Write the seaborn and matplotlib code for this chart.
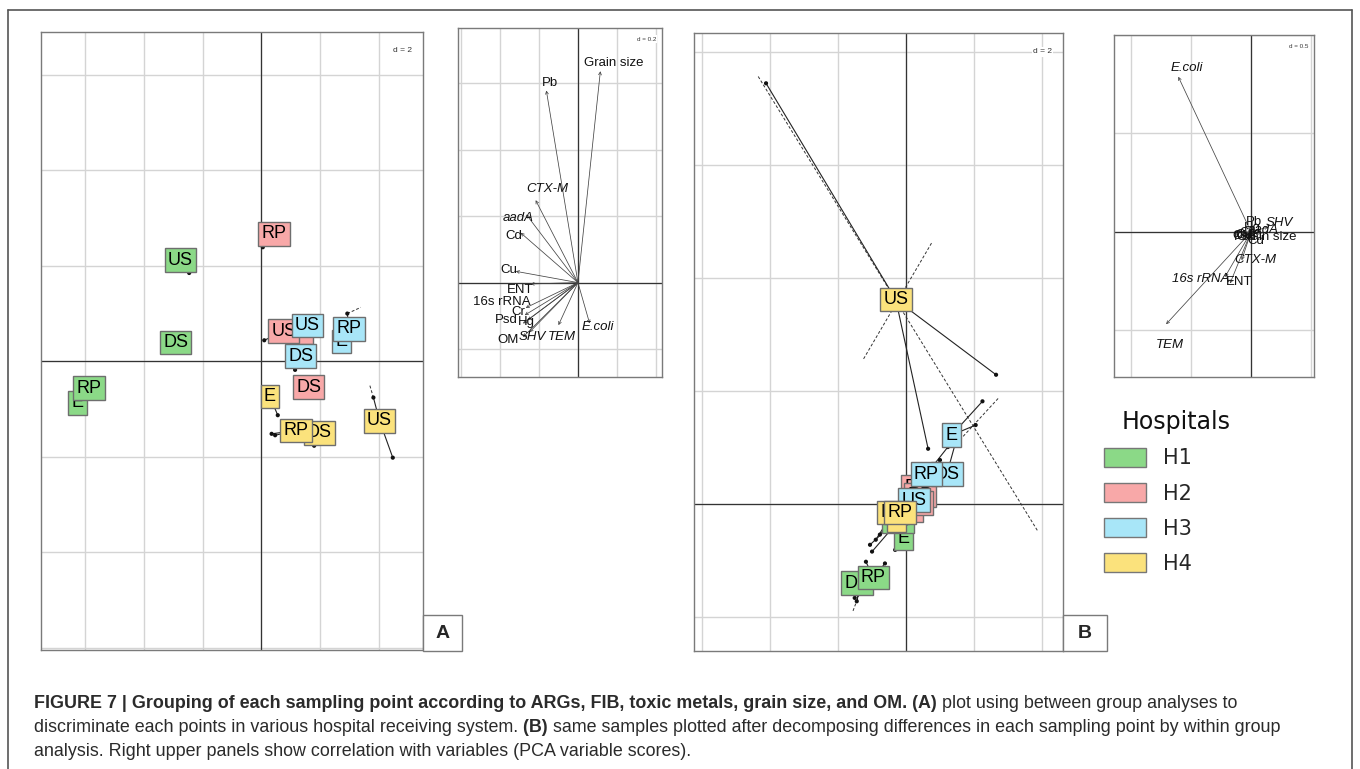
import numpy as np
import pandas as pd
import matplotlib.pyplot as plt
import seaborn as sns
from matplotlib.patches import Patch, Rectangle
from matplotlib.lines import Line2D

sns.set_theme(style="white")
plt.rcParams['font.family'] = ['Liberation Sans Narrow', 'Liberation Sans', 'DejaVu Sans']

W, H = 1360, 769
fig = plt.figure(figsize=(W / 100, H / 100), dpi=100)

hospitais = ["H1", "H2", "H3", "H4"]
cores = ["#8bd987", "#f8a8a8", "#a8e6f8", "#fbe27c"]
pontos = ["DS", "E", "RP", "US"]

# centroides (ordem H1..H4 x DS, E, RP, US)
a_x = [-2.92, -6.27, -5.88, -2.76, 1.61, 1.45, 0.43, 0.76, 1.34, 2.73, 2.99, 1.57, 1.98, 0.29, 1.18, 4.03]
a_y = [0.39, -0.87, -0.56, 2.12, -0.54, 0.60, 2.67, 0.63, 0.11, 0.41, 0.68, 0.75, -1.50, -0.74, -1.45, -1.25]
b_x = [-1.44, -0.07, -0.95, -0.23, 0.33, 0.24, 0.42, 0.33, 1.21, 1.35, 0.61, 0.24, -0.37, -0.27, -0.17, -0.29]
b_y = [-1.41, -0.61, -1.31, -0.32, 0.29, -0.11, 0.15, 0.01, 0.52, 1.21, 0.52, 0.06, -0.16, -0.29, -0.16, 3.61]

# amostras visiveis (indice do centroide, x, y)
amostra_a_grupo = [3, 6, 7, 8, 10, 13, 14, 14, 12, 15, 15]
amostra_a_x = [-2.46, 0.05, 0.10, 1.15, 2.93, 0.56, 0.47, 0.35, 1.80, 3.82, 4.48]
amostra_a_y = [1.85, 2.39, 0.44, -0.18, 1.00, -1.13, -1.55, -1.52, -1.77, -0.76, -2.02]

amostra_b_grupo = [15, 15, 15, 9, 9, 10, 8, 11, 0, 0, 2, 2, 1, 13, 14, 12, 3, 5]
amostra_b_x = [-4.11, 0.66, 2.66, 2.26, 2.06, 1.24, 1.45, 1.01, -1.44, -1.50, -1.17, -0.61, -0.31, -1.05, -0.76, -0.88, -0.99, -0.61]
amostra_b_y = [7.44, 0.97, 2.28, 1.81, 1.39, 1.00, 1.04, 0.77, -1.73, -1.67, -1.03, -1.06, -0.82, -0.73, -0.55, -0.64, -0.85, -0.47]

# eixos das elipses (tracejado)
elipse_a = [((2.93, 1.00), (3.39, 1.13)), ((3.70, -0.51), (3.82, -0.76))]
elipse_b = [((-4.34, 7.56), (3.90, -0.50)), ((0.76, 4.61), (-1.26, 2.54)),
            ((2.72, 1.86), (1.60, 1.13)), ((-1.55, -1.90), (-1.30, -1.50))]

# variaveis (PCA)
variaveis = ["Grain size", "Pb", "CTX-M", "aadA", "Cd", "Cu", "ENT", "16s rRNA",
             "Cr", "Hg", "Psd", "OM", "SHV", "TEM", "E.coli"]
va_x = [0.115, -0.162, -0.217, -0.265, -0.294, -0.319, -0.243, -0.268, -0.273, -0.258, -0.282, -0.282, -0.248, -0.100, 0.060]
va_y = [0.636, 0.578, 0.248, 0.205, 0.150, 0.034, -0.004, -0.076, -0.098, -0.113, -0.123, -0.164, -0.149, -0.128, -0.123]
va_lx = [0.185, -0.145, -0.157, -0.308, -0.331, -0.354, -0.294, -0.388, -0.308, -0.265, -0.367, -0.359, -0.236, -0.085, 0.103]
va_ly = [0.660, 0.602, 0.281, 0.194, 0.140, 0.037, -0.021, -0.058, -0.088, -0.118, -0.113, -0.174, -0.165, -0.164, -0.134]
italico_a = ["CTX-M", "aadA", "SHV", "TEM", "E.coli"]

vb_x = [0.092, 0.008, -0.078, 0.075, 0.025, -0.050, -0.175, -0.217, -0.025, 0.000, -0.042, -0.058, 0.144, -0.708, -0.606]
vb_y = [-0.007, 0.034, -0.144, 0.009, -0.022, -0.012, -0.262, -0.229, -0.007, 0.019, -0.022, -0.017, 0.025, -0.469, 0.788]
vb_lx = [0.131, 0.025, 0.036, 0.100, 0.042, -0.058, -0.098, -0.419, -0.040, 0.008, -0.050, -0.066, 0.236, -0.675, -0.536]
vb_ly = [-0.025, 0.049, -0.144, 0.009, -0.047, -0.017, -0.257, -0.237, -0.007, 0.019, -0.027, -0.022, 0.043, -0.576, 0.834]
italico_b = ["CTX-M", "aadA", "SHV", "TEM", "E.coli", "16s rRNA"]


def eixo_px(x0, y0, x1, y1):
    return fig.add_axes([x0 / W, 1 - y1 / H, (x1 - x0) / W, (y1 - y0) / H])


def base(ax, xlim, ylim, xt, yt, d):
    ax.set_xlim(xlim)
    ax.set_ylim(ylim)
    ax.set_xticks(xt)
    ax.set_yticks(yt)
    ax.set_xticklabels([])
    ax.set_yticklabels([])
    ax.tick_params(length=0)
    ax.grid(True, color="#d4d4d4", lw=1)
    ax.axhline(0, color="#333333", lw=0.9, zorder=1)
    ax.axvline(0, color="#333333", lw=0.9, zorder=1)
    for s in ax.spines.values():
        s.set_color("#7a7a7a")
        s.set_linewidth(1)
    ax.text(0.97, 0.975, d, transform=ax.transAxes, ha="right", va="top",
            fontsize=6 if "0." not in d else 4.5, color="#333333",
            bbox=dict(fc="white", ec="none", pad=1), zorder=20)


def painel(ax, cx, cy, ag, ax_, ay, elipses):
    for (p0, p1) in elipses:
        ax.plot([p0[0], p1[0]], [p0[1], p1[1]], ls=(0, (3, 2)), color="#333333", lw=0.7, zorder=2)
    for g, x, y in zip(ag, ax_, ay):
        ax.plot([cx[g], x], [cy[g], y], color="#222222", lw=0.8, zorder=2)
    amostras = pd.DataFrame({"x": ax_, "y": ay})
    sns.scatterplot(data=amostras, x="x", y="y", ax=ax, color="#111111", s=9,
                    edgecolor="none", zorder=3, legend=False)
    ax.set_xlabel("")
    ax.set_ylabel("")
    k = 0
    for hi, h in enumerate(hospitais):
        for p in pontos:
            ax.text(cx[k], cy[k], p, ha="center", va="center", fontsize=13, color="black",
                    bbox=dict(boxstyle="square,pad=0.18", fc=cores[hi], ec="#6e6e6e", lw=1),
                    zorder=5 + k)
            k += 1


def setas(ax, vx, vy, lx, ly, italicos):
    for nome, x, y, tx, ty in zip(variaveis, vx, vy, lx, ly):
        ax.annotate("", xy=(x, y), xytext=(0, 0),
                    arrowprops=dict(arrowstyle="->", lw=0.55, color="#444444",
                                    mutation_scale=5, shrinkA=0, shrinkB=0), zorder=3)
        ax.text(tx, ty, nome, ha="center", va="center", fontsize=9.5, color="#111111",
                style="italic" if nome in italicos else "normal", zorder=4)


# painel A
axA = eixo_px(41, 32, 423, 650)
base(axA, (-7.51, 5.51), (-6.05, 6.9), np.arange(-6, 5, 2), np.arange(-6, 7, 2), "d = 2")
painel(axA, a_x, a_y, amostra_a_grupo, amostra_a_x, amostra_a_y, elipse_a)

# painel B
axB = eixo_px(694, 33, 1063, 651)
base(axB, (-6.23, 4.63), (-2.61, 8.33), np.arange(-6, 5, 2), np.arange(-2, 9, 2), "d = 2")
painel(axB, b_x, b_y, amostra_b_grupo, amostra_b_x, amostra_b_y, elipse_b)

# correlacoes A
axIA = eixo_px(458, 28, 662, 377)
base(axIA, (-0.615, 0.431), (-0.284, 0.766), [-0.6, -0.4, -0.2, 0, 0.2, 0.4],
     [-0.2, 0, 0.2, 0.4, 0.6], "d = 0.2")
setas(axIA, va_x, va_y, va_lx, va_ly, italico_a)

# correlacoes B
axIB = eixo_px(1114, 35, 1314, 377)
base(axIB, (-1.142, 0.525), (-0.737, 1.0), [-1, -0.5, 0, 0.5], [-0.5, 0, 0.5, 1.0], "d = 0.5")
setas(axIB, vb_x, vb_y, vb_lx, vb_ly, italico_b)

# caixas A / B
for letra, x0, x1 in [("A", 423, 462), ("B", 1063, 1107)]:
    fig.add_artist(Rectangle((x0 / W, 1 - 651 / H), (x1 - x0) / W, 36 / H,
                             transform=fig.transFigure, fc="white", ec="#7a7a7a", lw=1))
    fig.text((x0 + x1) / 2 / W, 1 - 633 / H, letra, ha="center", va="center",
             fontsize=14, fontweight="bold", family="Liberation Sans")

# legenda
fig.text(1176 / W, 1 - 422 / H, "Hospitals", ha="center", va="center",
         family="DejaVu Sans", fontsize=17, color="#111111")
alcas = [Patch(facecolor=c, edgecolor="#777777", lw=1) for c in cores]
fig.legend(alcas, hospitais, loc="upper left",
           bbox_to_anchor=(1104 / W, 1 - 448 / H), frameon=False,
           prop={"family": "DejaVu Sans", "size": 15},
           handlelength=2.0, handleheight=1.0, handletextpad=0.85, labelspacing=0.7,
           borderaxespad=0, borderpad=0)

# moldura
for xs, ys in [((8, 8), (769, 10)), ((8, 1352), (10, 10)), ((1352, 1352), (10, 769))]:
    fig.add_artist(Line2D([x / W for x in xs], [1 - y / H for y in ys],
                          transform=fig.transFigure, color="#555555", lw=1.2))

# legenda da figura
linhas = [
    [("FIGURE 7 | Grouping of each sampling point according to ARGs, FIB, toxic metals, grain size, and OM. (A)", "bold"),
     (" plot using between group analyses to", "normal")],
    [("discriminate each points in various hospital receiving system.", "normal"), (" (B)", "bold"),
     (" same samples plotted after decomposing differences in each sampling point by within group", "normal")],
    [("analysis. Right upper panels show correlation with variables (PCA variable scores).", "normal")],
]
rend = fig.canvas.get_renderer()
for i, partes in enumerate(linhas):
    x = 34
    for txt, peso in partes:
        t = fig.text(x / W, 1 - (708 + 24 * i) / H, txt, ha="left", va="baseline",
                     fontsize=12.9, fontweight=peso, color="#2b2b2b")
        x = t.get_window_extent(rend).x1

fig.savefig("out.png", dpi=100)
